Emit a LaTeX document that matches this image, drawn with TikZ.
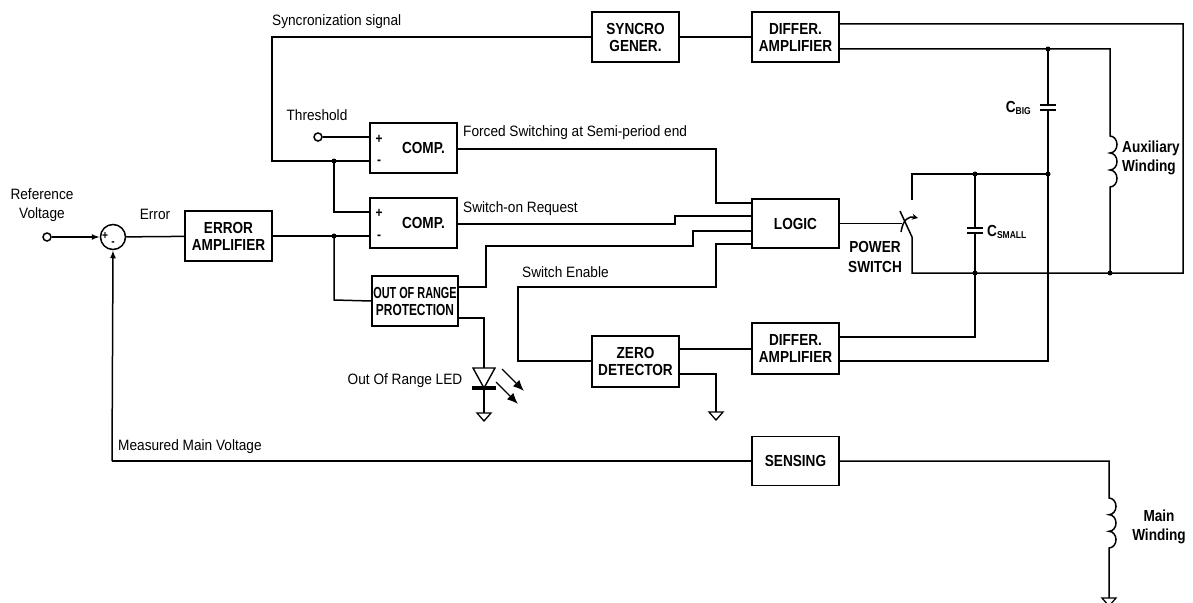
\documentclass[tikz,border=0pt]{standalone}
\usepackage{fontspec}
\setmainfont{Liberation Sans}[FakeStretch=0.91, BoldFeatures={FakeStretch=0.85}]
\usepackage{graphicx}
\usetikzlibrary{arrows.meta}
\newcommand{\subtxt}[1]{{\fontsize{10}{10}\selectfont\raisebox{-2.5pt}{#1}}}
\begin{document}
\begin{tikzpicture}[x=1pt,y=-1pt,
  wire/.style={line width=1.5pt},
  blk/.style={draw, line width=1.7pt, minimum width=87pt, minimum height=50pt, inner sep=0pt,
    font=\fontsize{16}{17}\selectfont\bfseries, align=center},
  jdot/.style={circle, fill, inner sep=0pt, minimum size=5pt},
  lbl/.style={inner sep=0pt, font=\fontsize{15}{19.5}\selectfont},
  blbl/.style={inner sep=0pt, font=\fontsize{16}{19.5}\selectfont\bfseries},
  pm/.style={inner sep=0pt, font=\fontsize{14}{14}\selectfont\bfseries},
  term/.style={draw, circle, minimum size=8pt, inner sep=0pt, line width=1.5pt},
  gndpic/.pic={\draw[line width=1.3pt] (-7,0) -- (7,0) -- (0,8) -- cycle;},
  arr/.style={-{Latex[length=8pt,width=6pt]}}
]
\useasboundingbox (0,0) rectangle (1193,602);

% ---------- blocks ----------
\node[blk] (erramp) at (228.5,236) {ERROR\\AMPLIFIER};
\node[blk] (comp1) at (413.5,148) {\hspace*{20pt}COMP.};
\node[blk] (comp2) at (413.5,223) {\hspace*{20pt}COMP.};
\node[blk, minimum width=86pt] (oor) at (415,301) {\scalebox{0.80}[1]{OUT OF RANGE}\\\scalebox{0.875}[1]{PROTECTION}};
\node[blk] (syncro) at (635.5,37) {SYNCRO\\GENER.};
\node[blk] (diff1) at (795.5,37) {DIFFER.\\AMPLIFIER};
\node[blk, minimum height=49pt] (logic) at (795.5,223.5) {LOGIC};
\node[blk, minimum height=51pt] (zero) at (635.5,361.5) {ZERO\\DETECTOR};
\node[blk, minimum height=51pt] (diff2) at (795.5,348.5) {DIFFER.\\AMPLIFIER};
\node[blk, minimum height=49pt] (sensing) at (795.5,461) {SENSING};

\node[pm] at (379,139) {+};
\node[pm] at (379,162) {-};
\node[pm] at (379,213) {+};
\node[pm] at (379,237) {-};

% ---------- summing junction and terminals ----------
\node[draw, circle, line width=1.5pt, minimum size=25pt, inner sep=0pt] (sum) at (113,237) {};
\node[pm, font=\fontsize{12}{12}\selectfont\bfseries] at (105,236) {+};
\node[pm, font=\fontsize{12}{12}\selectfont\bfseries] at (113,244) {-};
\node[term] (vref) at (47,237) {};
\node[term] (thr) at (318,137) {};

% ---------- coordinates ----------
\coordinate (j1) at (334,236);
\coordinate (j2) at (334,161);
\coordinate (c1p) at (370,137);
\coordinate (c1m) at (370,161);
\coordinate (c2p) at (370,212);
\coordinate (c2m) at (370,236);
\coordinate (jb1) at (1048,49);
\coordinate (jb2) at (1048,174);
\coordinate (js1) at (975,174);
\coordinate (js2) at (975,273);
\coordinate (ja) at (1110,273);

% ---------- wires ----------
\draw[wire,arr] (vref) -- (sum);
\draw[wire] (sum) -- (erramp);
\draw[wire] (erramp.east) -- (j1) -- (c2m);
\draw[wire] (j1) -- (334,300) -- (oor.west);
\draw[wire] (c1m) -- (j2) -- (272,161) -- (272,37) -- (syncro.west);
\draw[wire] (j2) -- (334,212) -- (c2p);
\draw[wire] (thr) -- (c1p);
\draw[wire] (457,149) -- (716,149) -- (716,203) -- (752,203);
\draw[wire] (457,224) -- (675,224) -- (675,216) -- (752,216);
\draw[wire] (458,287) -- (486,287) -- (486,246) -- (693,246) -- (693,231) -- (752,231);
\draw[wire] (752,244) -- (716,244) -- (716,287) -- (518,287) -- (518,361) -- (zero.west |- 0,361);
\draw[wire] (syncro.east) -- (diff1.west);
\draw[wire] (679,349) -- (752,349);
\draw[wire] (679,374) -- (716,374) -- (716,412);
\pic at (716,412) {gndpic};

% LED
\draw[wire] (458,318) -- (484,318) -- (484,368);
\draw[line width=1.4pt] (473,368) -- (495,368) -- (484,388) -- cycle;
\draw[line width=3.5pt] (472,388) -- (496,388);
\draw[wire] (484,388) -- (484,413);
\pic at (484,413) {gndpic};
\draw[line width=1.4pt, -{Latex[length=11pt,width=9pt]}] (502,369) -- (524,391);
\draw[line width=1.4pt, -{Latex[length=11pt,width=9pt]}] (496,382) -- (518,404);

% right power part
\draw[wire] (839,24) -- (1183,24) -- (1183,273) -- (912,273) -- (912,237) -- (900,211);
\draw[wire] (839,49) -- (1110,49) -- (1110,136)
   arc[start angle=-90,end angle=90,x radius=7,y radius=8.5]
   arc[start angle=-90,end angle=90,x radius=7,y radius=8.5]
   arc[start angle=-90,end angle=90,x radius=7,y radius=8.5]
   -- (ja);
\draw[wire] (jb1) -- (1048,105);
\draw[wire] (1040,105) -- (1056,105);
\draw[wire] (1040,110) -- (1056,110);
\draw[wire] (1048,110) -- (1048,361) -- (839,361);
\draw[wire] (912,200) -- (912,174) -- (jb2);
\draw[wire] (js1) -- (975,228);
\draw[wire] (967,228) -- (983,228);
\draw[wire] (967,233) -- (983,233);
\draw[wire] (975,233) -- (975,337) -- (839,337);
\draw[wire] (logic.east) -- (902,223.5);
\draw[wire, -{Stealth[length=6pt,width=6pt]}] (901,232) .. controls (903,219) and (909,216) .. (918,218);

% sensing / main winding
\draw[wire,arr] (112,461) -- (sum.south);
\draw[wire] (112,461) -- (sensing.west);
\draw[wire] (sensing.east) -- (1109,461) -- (1109,498)
   arc[start angle=-90,end angle=90,x radius=7,y radius=8.33]
   arc[start angle=-90,end angle=90,x radius=7,y radius=8.33]
   arc[start angle=-90,end angle=90,x radius=7,y radius=8.33]
   -- (1109,598);
\pic at (1109,598) {gndpic};

% dots
\foreach \p in {j1,j2,jb1,jb2,js1,js2,ja} \node[jdot] at (\p) {};

% ---------- labels ----------
\node[lbl, align=center] at (42,205) {Reference\\Voltage};
\node[lbl] at (155,214) {Error};
\node[lbl] at (317,115) {Threshold};
\node[lbl, anchor=west] at (272,22) {Syncronization signal};
\node[lbl, anchor=west] at (463,133) {Forced Switching at Semi-period end};
\node[lbl, anchor=west] at (463,209) {Switch-on Request};
\node[lbl, anchor=west] at (522,272) {Switch Enable};
\node[lbl] at (405,381) {Out Of Range LED};
\node[lbl, anchor=west] at (118,447) {Measured Main Voltage};
\node[blbl, align=center] at (875,257) {POWER\\SWITCH};
\node[blbl, align=left, anchor=west] at (1122,158) {Auxiliary\\Winding};
\node[blbl, align=center] at (1159,527) {Main\\Winding};
\node[blbl, anchor=east] at (1031,108) {C\subtxt{BIG}};
\node[blbl, anchor=west] at (987,232) {C\subtxt{SMALL}};
\end{tikzpicture}
\end{document}
